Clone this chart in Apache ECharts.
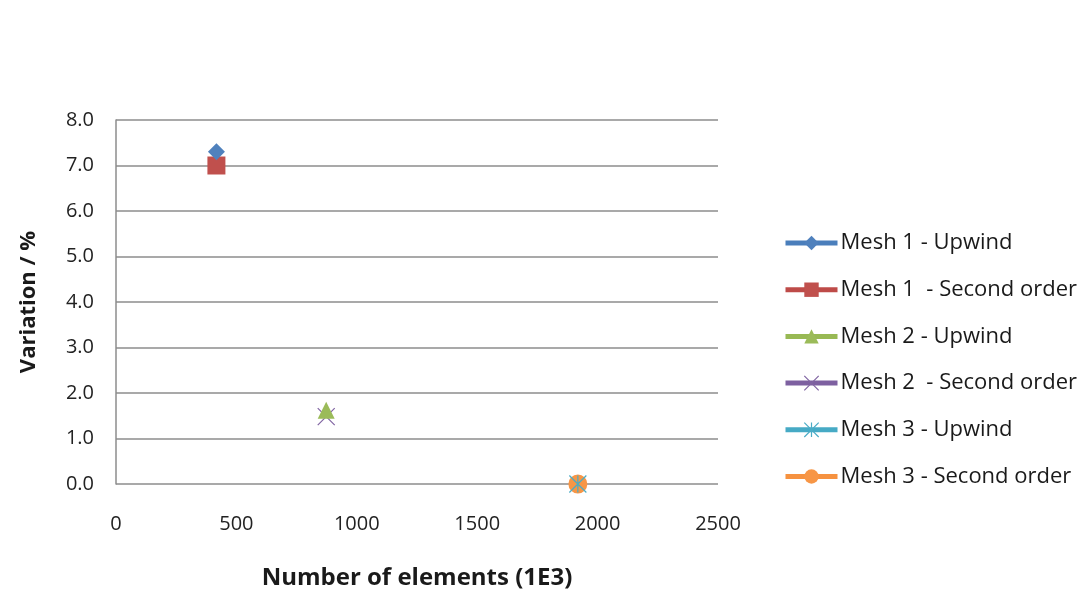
<!DOCTYPE html>
<html>
<head>
<meta charset="utf-8">
<script src="https://cdn.jsdelivr.net/npm/echarts@6/dist/echarts.min.js"></script>
<style>
  html, body { margin: 0; padding: 0; background: #ffffff; }
  #chart { width: 1084px; height: 597px; }
</style>
</head>
<body>
<div id="chart"></div>
<script>
// Series names, in legend order
const seriesNames = [
  'Mesh 1 - Upwind',
  'Mesh 1  - Second order',
  'Mesh 2 - Upwind',
  'Mesh 2  - Second order',
  'Mesh 3 - Upwind',
  'Mesh 3 - Second order'
];
// Number of elements (thousands) for each series
const elements = [417, 417, 873, 873, 1918, 1918];
// Variation in percent for each series
const variation = [7.3, 7.0, 1.62, 1.48, 0.0, 0.0];

const lineColors = ['#4A7EBB', '#BE4B48', '#98B954', '#7D60A0', '#46AAC5', '#F69240'];
const markerColors = ['#4F81BD', '#C0504D', '#9BBB59', '#8064A2', '#4BACC6', '#F79646'];
const crossPath = 'path://M0,0L10,10M10,0L0,10';
const starPath = 'path://M0,0L10,10M10,0L0,10M5,0L5,10';
const symbols = ['diamond', 'rect', 'triangle', crossPath, starPath, 'circle'];
const symbolSizes = [17, 18, 17, 17, 17, 19];

const FONT = '"Open Sans", "Noto Sans", sans-serif';

const series = seriesNames.map((name, i) => {
  const stroked = i === 3 || i === 4;
  return {
    name,
    type: 'line',
    data: [[elements[i], variation[i]]],
    symbol: symbols[i],
    symbolSize: symbolSizes[i],
    showSymbol: true,
    z: 10 - i,
    lineStyle: { color: lineColors[i], width: 4 },
    itemStyle: stroked
      ? { color: 'rgba(0,0,0,0)', borderColor: markerColors[i], borderWidth: 1.2 }
      : { color: markerColors[i], borderWidth: 0 },
    animation: false
  };
});

// Legend entries with a thick line and a larger marker
const legendData = seriesNames.map((name, i) => {
  const stroked = i === 3 || i === 4;
  return {
    name,
    lineStyle: { color: lineColors[i], width: 5 },
    itemStyle: stroked
      ? { color: 'rgba(0,0,0,0)', borderColor: markerColors[i], borderWidth: 1.2 }
      : { color: markerColors[i], borderWidth: 0 }
  };
});

const chart = echarts.init(document.getElementById('chart'), null, { renderer: 'canvas' });
chart.setOption({
  backgroundColor: '#ffffff',
  animation: false,
  grid: { left: 116, top: 120, right: 366, bottom: 113, containLabel: false },
  xAxis: {
    type: 'value',
    min: 0, max: 2500, interval: 500,
    name: 'Number of elements (1E3)',
    nameLocation: 'middle',
    nameGap: 82,
    nameTextStyle: { fontFamily: FONT, fontSize: 24, fontWeight: 'bold', color: '#1a1a1a' },
    axisLine: { show: false },
    axisTick: { show: false },
    splitLine: { show: false },
    axisLabel: { margin: 30, fontFamily: FONT, fontSize: 20, color: '#222',
      formatter: v => String(v) }
  },
  yAxis: {
    type: 'value',
    min: 0, max: 8, interval: 1,
    name: 'Variation / %',
    nameLocation: 'middle',
    nameGap: 76,
    nameRotate: 90,
    nameTextStyle: { fontFamily: FONT, fontSize: 22, fontWeight: 'bold', color: '#1a1a1a' },
    axisLine: { show: true, lineStyle: { color: '#8c8c8c', width: 1.5 } },
    axisTick: { show: false },
    splitLine: { show: true, lineStyle: { color: '#8c8c8c', width: 1.5 } },
    axisLabel: { margin: 22, fontFamily: FONT, fontSize: 20, color: '#222',
      formatter: v => v.toFixed(1) }
  },
  legend: {
    orient: 'vertical',
    left: 783,
    top: 232,
    padding: 0,
    itemWidth: 52,
    itemHeight: 18,
    itemGap: 24.7,
    data: legendData,
    textStyle: { fontFamily: FONT, fontSize: 22, color: '#1a1a1a', padding: [0, 0, 0, -2] }
  },
  series
});
</script>
</body>
</html>
